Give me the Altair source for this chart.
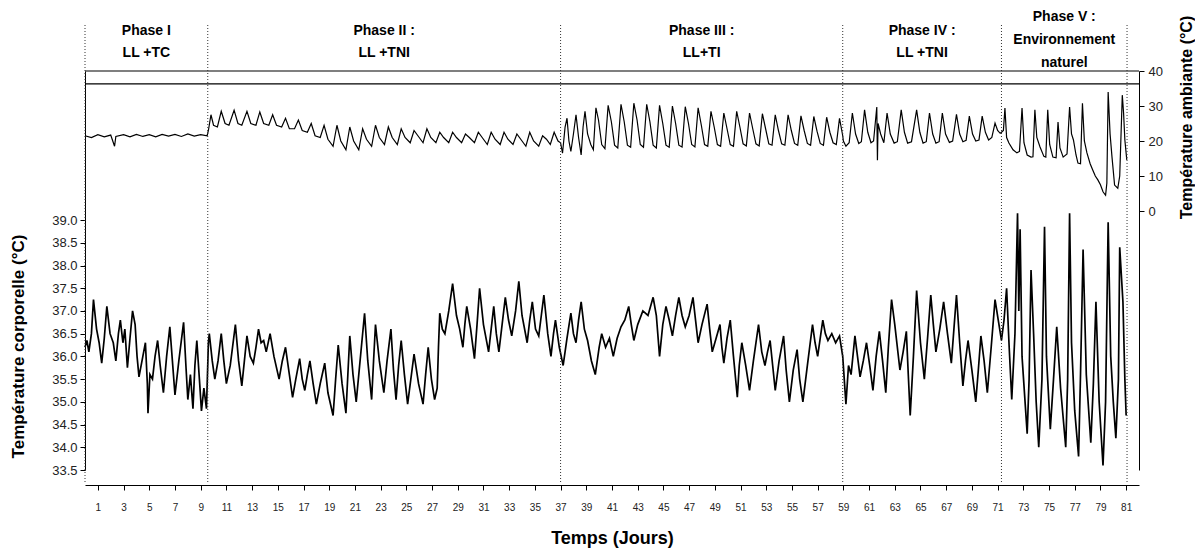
import altair as alt
import pandas as pd

# ---- data ----
# body temperature (°C): (day, value)
body_temp = [
    (0.0, 36.2), (0.15, 36.35), (0.3, 36.1), (0.5, 36.5), (0.66, 37.25), (0.9, 36.6), (1.1, 36.3), (1.3, 35.85),
    (1.5, 36.4), (1.7, 37.1), (1.95, 36.5), (2.2, 36.3), (2.4, 35.9), (2.6, 36.5), (2.75, 36.8), (2.95, 36.3),
    (3.1, 36.6), (3.3, 35.75), (3.5, 36.4), (3.7, 37.0), (3.9, 36.7), (4.05, 36.0), (4.2, 35.55), (4.5, 36.0),
    (4.7, 36.3), (4.85, 35.4), (4.9, 34.75), (5.05, 35.6), (5.25, 35.5), (5.45, 36.0), (5.65, 36.35), (5.85, 35.8),
    (6.1, 35.2), (6.35, 36.0), (6.6, 36.65), (6.8, 35.9), (7.0, 35.15), (7.3, 35.9), (7.67, 36.75), (7.85, 35.8),
    (8.0, 35.05), (8.2, 35.6), (8.4, 34.85), (8.55, 35.8), (8.7, 36.35), (8.9, 35.5), (9.06, 34.8), (9.25, 35.3),
    (9.45, 34.85), (9.6, 36.3), (9.67, 36.5), (9.9, 35.9), (10.1, 35.5), (10.35, 35.9), (10.6, 36.5), (10.8, 35.9),
    (11.0, 35.4), (11.3, 35.8), (11.7, 36.7), (11.95, 35.9), (12.2, 35.35), (12.4, 35.9), (12.6, 36.45), (12.85, 36.0),
    (13.1, 35.85), (13.3, 36.2), (13.5, 36.6), (13.7, 36.3), (13.9, 36.35), (14.1, 36.1), (14.4, 36.5), (14.7, 36.0),
    (15.1, 35.5), (15.35, 35.9), (15.6, 36.2), (15.9, 35.6), (16.15, 35.1), (16.4, 35.5), (16.7, 35.95), (16.9, 35.5),
    (17.1, 35.25), (17.3, 35.6), (17.5, 35.9), (17.75, 35.4), (18.0, 34.95), (18.3, 35.4), (18.65, 35.85), (18.9, 35.2),
    (19.3, 34.7), (19.5, 35.5), (19.7, 36.25), (20.0, 35.4), (20.3, 34.75), (20.45, 35.6), (20.6, 36.45), (20.85, 35.6),
    (21.1, 35.0), (21.4, 35.9), (21.75, 36.95), (22.0, 35.9), (22.3, 35.05), (22.45, 35.9), (22.6, 36.7), (22.9, 35.9),
    (23.25, 35.2), (23.5, 35.9), (23.8, 36.6), (24.0, 35.7), (24.2, 35.05), (24.4, 35.8), (24.6, 36.35), (24.85, 35.6),
    (25.1, 34.95), (25.35, 35.5), (25.6, 36.05), (25.95, 35.4), (26.3, 34.95), (26.5, 35.6), (26.7, 36.2), (26.95, 35.5),
    (27.2, 35.05), (27.4, 35.3), (27.5, 36.2), (27.6, 36.95), (27.8, 36.6), (28.0, 36.5), (28.3, 37.0), (28.6, 37.6),
    (28.9, 36.9), (29.15, 36.6), (29.4, 36.2), (29.55, 36.7), (29.7, 37.1), (30.0, 36.6), (30.3, 35.95), (30.5, 36.7),
    (30.7, 37.5), (31.0, 36.7), (31.4, 36.1), (31.6, 36.6), (31.8, 37.1), (32.0, 36.5), (32.2, 36.1), (32.45, 36.7),
    (32.7, 37.3), (32.95, 36.8), (33.2, 36.45), (33.5, 37.0), (33.75, 37.65), (34.0, 36.9), (34.4, 36.3), (34.6, 36.8),
    (34.8, 37.2), (35.05, 36.6), (35.3, 36.45), (35.5, 36.9), (35.7, 37.35), (36.0, 36.5), (36.25, 36.0), (36.45, 36.5),
    (36.6, 36.8), (36.9, 36.2), (37.2, 35.8), (37.5, 36.4), (37.8, 36.95), (38.0, 36.5), (38.2, 36.3), (38.4, 36.8),
    (38.6, 37.2), (38.85, 36.6), (39.1, 36.35), (39.4, 35.9), (39.7, 35.6), (40.0, 36.2), (40.2, 36.5), (40.5, 36.2),
    (40.8, 36.4), (41.1, 36.0), (41.4, 36.4), (41.7, 36.65), (42.0, 36.8), (42.3, 37.1), (42.5, 36.7), (42.7, 36.35),
    (43.0, 36.7), (43.4, 37.0), (43.8, 36.9), (44.2, 37.3), (44.45, 36.9), (44.7, 36.0), (44.95, 36.7), (45.2, 37.1),
    (45.45, 36.8), (45.7, 36.45), (45.95, 36.9), (46.2, 37.3), (46.45, 36.9), (46.7, 36.65), (47.0, 36.9), (47.3, 37.3),
    (47.5, 36.8), (47.7, 36.3), (48.0, 36.7), (48.4, 37.15), (48.6, 36.6), (48.8, 36.1), (49.1, 36.4), (49.4, 36.7),
    (49.55, 36.2), (49.7, 35.85), (49.95, 36.4), (50.2, 36.8), (50.45, 36.0), (50.75, 35.1), (50.9, 35.8), (51.1, 36.3),
    (51.4, 35.8), (51.7, 35.25), (52.0, 35.9), (52.4, 36.7), (52.65, 36.1), (52.9, 35.8), (53.1, 36.1), (53.3, 36.35),
    (53.5, 35.8), (53.7, 35.25), (54.0, 35.9), (54.35, 36.45), (54.55, 35.7), (54.8, 35.0), (55.1, 35.7), (55.4, 36.15),
    (55.6, 35.5), (55.85, 35.0), (56.2, 35.8), (56.6, 36.7), (56.8, 36.3), (57.0, 36.0), (57.2, 36.4), (57.4, 36.8),
    (57.6, 36.5), (57.8, 36.35), (58.1, 36.5), (58.4, 36.3), (58.7, 36.45), (58.95, 36.0), (59.2, 34.95), (59.4, 35.8),
    (59.6, 35.6), (59.9, 36.45), (60.1, 36.0), (60.3, 35.55), (60.55, 35.9), (60.8, 36.3), (61.05, 35.8), (61.3, 35.25),
    (61.55, 36.0), (61.8, 36.55), (62.05, 35.9), (62.3, 35.2), (62.5, 36.2), (62.75, 37.25), (63.0, 36.7), (63.4, 35.7),
    (63.65, 36.1), (63.9, 36.55), (64.05, 35.6), (64.2, 34.7), (64.45, 36.0), (64.7, 37.45), (65.0, 36.3), (65.3, 35.5),
    (65.55, 36.4), (65.8, 37.35), (66.0, 36.7), (66.2, 36.1), (66.5, 36.6), (66.8, 37.2), (67.1, 36.5), (67.4, 35.85),
    (67.6, 36.6), (67.8, 37.35), (68.05, 36.3), (68.3, 35.35), (68.5, 35.9), (68.7, 36.35), (69.0, 35.7), (69.3, 35.0),
    (69.5, 35.7), (69.7, 36.45), (69.95, 35.9), (70.2, 35.2), (70.5, 36.2), (70.8, 37.25), (71.05, 36.8), (71.3, 36.35),
    (71.5, 36.8), (71.7, 37.5), (71.9, 36.2), (72.1, 35.05), (72.35, 36.5), (72.55, 39.15), (72.65, 37.0), (72.75, 38.8),
    (72.9, 36.0), (73.3, 34.3), (73.45, 35.5), (73.6, 37.9), (73.8, 36.5), (74.0, 35.0), (74.2, 34.0), (74.45, 35.5),
    (74.65, 38.85), (74.8, 36.0), (75.1, 34.4), (75.35, 35.5), (75.6, 36.65), (75.9, 35.3), (76.3, 34.0), (76.45, 35.5),
    (76.6, 39.15), (76.75, 36.3), (77.0, 34.8), (77.3, 33.8), (77.45, 35.6), (77.65, 38.35), (77.9, 35.6), (78.25, 34.1),
    (78.45, 35.4), (78.65, 37.2), (78.9, 35.0), (79.2, 33.6), (79.4, 35.0), (79.6, 38.95), (79.8, 36.0), (80.0, 35.0),
    (80.2, 34.2), (80.4, 35.5), (80.5, 38.4), (80.75, 37.2), (80.9, 35.5), (81.0, 34.7),
]

# ambient temperature (°C): (day, value)
ambient_temp = [
    (0.0, 21.5), (0.5, 21.0), (1.0, 21.8), (1.5, 21.2), (2.0, 21.7), (2.3, 18.5), (2.4, 21.3), (3.0, 21.8),
    (3.5, 21.2), (4.0, 21.9), (4.5, 21.3), (5.0, 21.8), (5.5, 21.2), (6.0, 21.9), (6.5, 21.4), (7.0, 21.9),
    (7.5, 21.3), (8.0, 22.0), (8.5, 21.4), (9.0, 21.8), (9.5, 21.5),
    (9.6, 23.0), (9.8, 27.5), (10.0, 24.5), (10.3, 24.0), (10.6, 28.5), (10.9, 25.0), (11.2, 24.5), (11.6, 28.8),
    (11.9, 25.0), (12.2, 24.5), (12.6, 28.5), (12.9, 25.0), (13.3, 24.5), (13.6, 28.3), (13.9, 25.0), (14.3, 24.5),
    (14.6, 27.5), (14.9, 24.5), (15.3, 24.0), (15.6, 26.5), (15.9, 23.5), (16.3, 23.5), (16.6, 26.0), (16.9, 23.0),
    (17.3, 22.5), (17.6, 25.0), (17.9, 21.5), (18.3, 21.0), (18.6, 24.5), (18.9, 20.5), (19.3, 18.5), (19.6, 24.5),
    (19.9, 20.0), (20.3, 17.5), (20.6, 24.0), (20.9, 20.0), (21.3, 17.5), (21.6, 23.5), (21.9, 20.5), (22.3, 18.5),
    (22.6, 24.5), (22.9, 21.0), (23.3, 19.0), (23.6, 24.0), (23.9, 21.0), (24.3, 19.0), (24.6, 23.5), (24.9, 21.0),
    (25.3, 19.5), (25.6, 23.0), (25.9, 21.5), (26.3, 19.5), (26.6, 23.5), (26.9, 21.0), (27.3, 19.5), (27.6, 22.5),
    (27.9, 21.0), (28.3, 19.5), (28.6, 22.5), (28.9, 21.0), (29.3, 19.5), (29.6, 22.0), (29.9, 21.0), (30.3, 19.5),
    (30.6, 22.5), (30.9, 21.0), (31.3, 19.0), (31.6, 22.5), (31.9, 20.5), (32.3, 19.0), (32.6, 22.5), (32.9, 20.5),
    (33.3, 19.0), (33.6, 22.0), (33.9, 20.5), (34.3, 18.5), (34.6, 22.5), (34.9, 20.0), (35.3, 18.5), (35.6, 21.5),
    (35.9, 20.5), (36.2, 19.0), (36.5, 22.5), (36.8, 20.0),
    (37.0, 19.5), (37.15, 16.5), (37.35, 24.0), (37.5, 26.5), (37.65, 20.0), (37.8, 17.0), (38.0, 22.0), (38.2, 27.5),
    (38.4, 21.0), (38.6, 16.0), (38.75, 24.0), (38.9, 28.5), (39.1, 22.0), (39.35, 19.0), (39.55, 17.5), (39.75, 29.5),
    (39.95, 26.0), (40.2, 19.0), (40.45, 17.8), (40.7, 30.2), (40.95, 25.5), (41.2, 18.8), (41.45, 18.0), (41.7, 30.5),
    (41.95, 25.5), (42.2, 18.8), (42.45, 18.2), (42.7, 30.8), (42.95, 26.0), (43.2, 19.0), (43.45, 18.2), (43.7, 30.5),
    (43.95, 25.5), (44.2, 18.8), (44.45, 18.0), (44.7, 30.2), (44.95, 25.0), (45.2, 18.8), (45.45, 18.2), (45.7, 30.0),
    (45.95, 25.0), (46.2, 18.8), (46.45, 18.3), (46.7, 29.8), (46.95, 25.0), (47.2, 19.0), (47.45, 18.3), (47.7, 29.5),
    (47.95, 24.5), (48.2, 19.0), (48.45, 18.5), (48.7, 28.5), (48.95, 24.0), (49.2, 19.0), (49.45, 18.5), (49.7, 28.0),
    (49.95, 23.5), (50.2, 19.0), (50.45, 18.5), (50.7, 28.5), (50.95, 24.0), (51.2, 19.2), (51.45, 18.6), (51.7, 28.0),
    (51.95, 23.5), (52.2, 19.2), (52.45, 18.6), (52.7, 27.8), (52.95, 23.5), (53.2, 19.2), (53.45, 18.8), (53.7, 27.5),
    (53.95, 23.0), (54.2, 19.2), (54.45, 18.8), (54.7, 27.5), (54.95, 23.0), (55.2, 19.3), (55.45, 18.8), (55.7, 27.2),
    (55.95, 23.0), (56.2, 19.3), (56.45, 18.8), (56.7, 27.0), (56.95, 22.8), (57.2, 19.3), (57.45, 18.8), (57.7, 26.8),
    (57.95, 22.5), (58.2, 19.5), (58.45, 19.0), (58.7, 26.5), (58.95, 21.5),
    (59.0, 20.0), (59.2, 18.5), (59.45, 19.5), (59.7, 28.0), (59.95, 22.0), (60.2, 19.3), (60.4, 19.8), (60.65, 28.9),
    (60.9, 22.5), (61.15, 19.5), (61.35, 20.0), (61.6, 29.7), (61.65, 14.5), (61.7, 25.0), (61.9, 22.0), (62.15, 19.5),
    (62.4, 28.0), (62.65, 22.0), (62.95, 19.4), (63.2, 19.8), (63.5, 28.9), (63.75, 22.5), (64.0, 19.4), (64.3, 19.8),
    (64.7, 28.9), (64.95, 22.5), (65.2, 19.4), (65.45, 19.8), (65.7, 28.0), (65.95, 22.0), (66.2, 19.4), (66.45, 19.8),
    (66.7, 28.0), (66.95, 22.0), (67.25, 19.6), (67.5, 20.0), (67.8, 27.6), (68.05, 22.0), (68.3, 19.8), (68.55, 20.2),
    (68.8, 27.1), (69.05, 22.0), (69.3, 20.0), (69.55, 20.3), (69.8, 27.1), (70.05, 22.5), (70.3, 20.3), (70.55, 21.0),
    (70.8, 25.1), (71.0, 23.0), (71.2, 22.2),
    (71.3, 22.5), (71.45, 23.0), (71.57, 29.4), (71.7, 21.0), (71.88, 19.4), (72.2, 17.5), (72.5, 16.6), (72.7, 17.0),
    (72.9, 29.4), (73.05, 19.5), (73.3, 16.0), (73.6, 15.4), (73.75, 15.5), (73.9, 28.9), (74.05, 21.0), (74.3, 18.3),
    (74.6, 15.6), (74.75, 15.4), (74.9, 28.9), (75.05, 19.0), (75.3, 15.4), (75.55, 15.2), (75.7, 25.4), (75.85, 18.0),
    (76.1, 15.4), (76.4, 16.3), (76.6, 29.7), (76.75, 22.0), (76.9, 20.3), (77.1, 16.0), (77.25, 13.7), (77.45, 13.5),
    (77.6, 30.8), (77.75, 20.0), (77.95, 16.6), (78.2, 13.5), (78.4, 11.7), (78.6, 10.0), (78.8, 8.9), (79.0, 7.5),
    (79.2, 5.5), (79.4, 4.5), (79.5, 8.0), (79.6, 34.0), (79.75, 22.0), (79.9, 15.4), (80.1, 7.4), (80.35, 6.5),
    (80.5, 10.0), (80.7, 33.1), (80.8, 28.0), (80.9, 20.3), (81.05, 14.6),
]

phase_bounds = [0.0, 9.55, 37.0, 58.95, 71.3, 81.07]
phase_titles = ["Phase I", "Phase II :", "Phase III :", "Phase IV :", "Phase V :"]
phase_conditions = ["LL +TC", "LL +TNI", "LL+TI", "LL +TNI", "Environnement\nnaturel"]
frame_levels = [40.0, 36.3]
body_ticks = [33.5, 34.0, 34.5, 35.0, 35.5, 36.0, 36.5, 37.0, 37.5, 38.0, 38.5, 39.0]
ambient_ticks = [0, 10, 20, 30, 40]
day_ticks = list(range(1, 82, 2))

FONT = "Liberation Sans"
W, H = 1054, 399

bt_df = pd.DataFrame(body_temp, columns=["day", "bt"])
at_df = pd.DataFrame(ambient_temp, columns=["day", "at"])
bounds_df = pd.DataFrame({"day": phase_bounds})
mids = [(phase_bounds[i] + phase_bounds[i + 1]) / 2 for i in range(5)]
labels_df = pd.DataFrame({"day": mids, "label": [t + "\n" + c for t, c in zip(phase_titles, phase_conditions)]})
frame_df = pd.DataFrame({"lvl": frame_levels})

xscale = alt.Scale(domain=[0, 82], nice=False, zero=False)
bt_scale = alt.Scale(domain=[33.5, 42.28], nice=False, zero=False)
at_scale = alt.Scale(domain=[-74.0, 40.0], nice=False, zero=False)


def x_enc():
    # identical x axis definition in every layer so that the shared axis merges cleanly
    return alt.X("day:Q", scale=xscale,
                 axis=alt.Axis(values=day_ticks, tickSize=5, labelFontSize=10, labelPadding=12, grid=False,
                               offset=15, title="Temps (Jours)", titleFontSize=18, titleFontWeight="bold",
                               titlePadding=17, labelFlush=False, labelOverlap=False, labelBound=False))


bt_line = alt.Chart(bt_df).mark_line(color="black", strokeWidth=1.7).encode(
    x=x_enc(),
    y=alt.Y("bt:Q", scale=bt_scale,
            axis=alt.Axis(values=body_ticks, format=".1f", tickSize=5, labelFontSize=13, labelPadding=3,
                          grid=False, title="Température corporelle (°C)", titleFontSize=17,
                          titleFontWeight="bold", titleX=-67, titleY=275, titleAngle=270,
                          titleAlign="center", titleBaseline="middle", labelOverlap=False)),
)

at_line = alt.Chart(at_df).mark_line(color="black", strokeWidth=1.2).encode(
    x=x_enc(),
    y=alt.Y("at:Q", scale=at_scale,
            axis=alt.Axis(orient="right", values=ambient_ticks, tickSize=5, labelFontSize=13, labelPadding=4,
                          grid=False, title="Température ambiante (°C)", titleFontSize=16,
                          titleFontWeight="bold", titleX=47, titleY=46, titleAngle=270,
                          titleAlign="center", titleBaseline="middle", labelOverlap=False)),
)

frame = alt.Chart(frame_df).mark_rule(color="black", strokeWidth=1.2).encode(
    y=alt.Y("lvl:Q", scale=at_scale, axis=None),
    x=alt.value(0), x2=alt.value(W),
)

phase_rules = alt.Chart(bounds_df).mark_rule(color="#333333", strokeWidth=1, strokeDash=[1, 2]).encode(
    x=x_enc(), y=alt.value(-46), y2=alt.value(413),
)

text_props = dict(font=FONT, fontSize=14, fontWeight="bold", align="center", baseline="top",
                  lineBreak="\n", color="black")
labels_a = alt.Chart(labels_df.iloc[:4]).mark_text(lineHeight=22, **text_props).encode(
    x=x_enc(), y=alt.value(-47), text="label:N",
)
labels_b = alt.Chart(labels_df.iloc[4:]).mark_text(lineHeight=23, **text_props).encode(
    x=x_enc(), y=alt.value(-61), text="label:N",
)

chart = alt.layer(bt_line, at_line, frame, phase_rules, labels_a, labels_b).resolve_scale(
    y="independent"
).properties(
    width=W, height=H,
    autosize=alt.AutoSizeParams(type="none"),
    padding={"left": 77, "top": 63, "right": 56, "bottom": 78},
).configure_view(stroke=None).configure_axis(
    labelFont=FONT, titleFont=FONT, labelColor="#222222", titleColor="black",
    domainColor="black", tickColor="black", domainWidth=1, tickWidth=1,
).configure_axisX(labelOverlap=False)

chart.save("out.html", embed_options={"renderer": "svg", "actions": False})
